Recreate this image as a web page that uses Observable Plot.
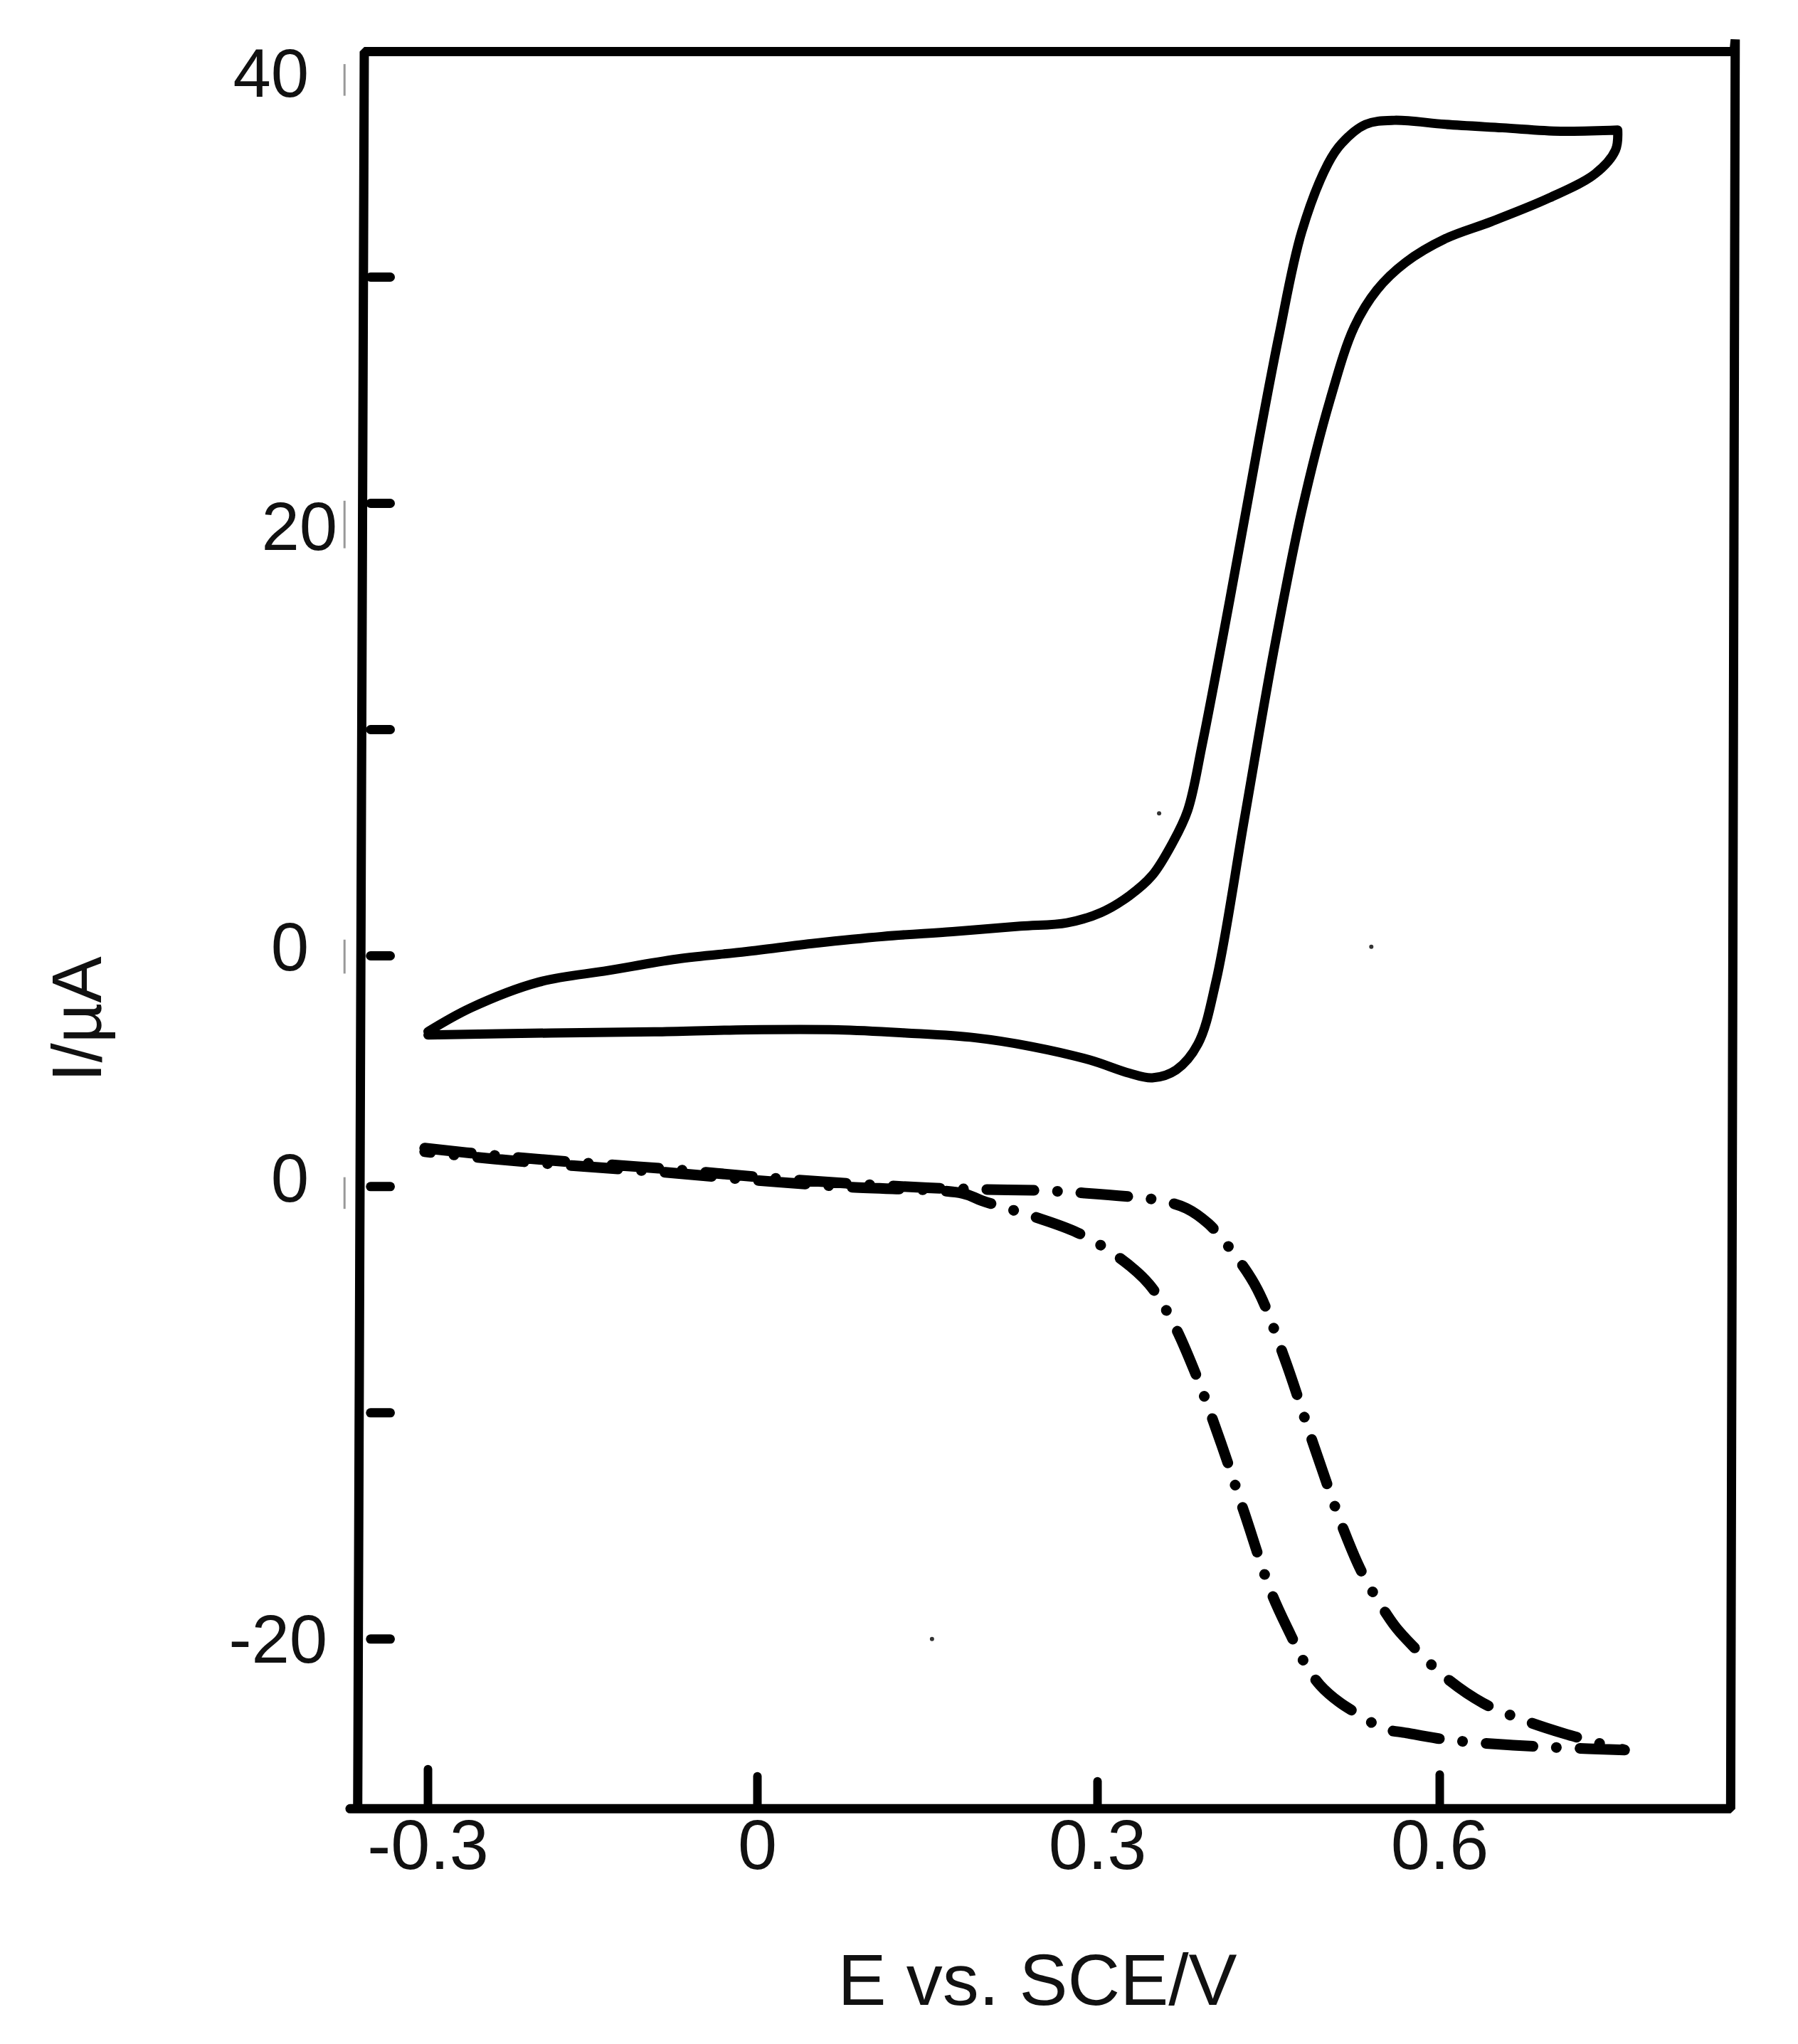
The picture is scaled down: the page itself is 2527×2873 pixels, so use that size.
<!DOCTYPE html>
<html>
<head>
<meta charset="utf-8">
<style>html,body{margin:0;padding:0;background:#fff}svg{display:block}</style>
<script src="https://cdn.jsdelivr.net/npm/d3@7"></script>
<script src="https://cdn.jsdelivr.net/npm/@observablehq/plot@0.6"></script>
</head>
<body>
<script>
// Solid curve: cyclic voltammogram, E in V, I in µA
const cvE = [-0.300,-0.300,-0.261,-0.199,-0.136,-0.073,-0.010,0.051,0.111,0.172,0.232,0.273,0.303,0.328,0.348,0.365,0.379,0.392,0.416,0.441,0.459,0.479,0.502,0.514,0.535,0.560,0.605,0.655,0.706,0.756,0.756,0.754,0.736,0.696,0.645,0.605,0.570,0.545,0.525,0.504,0.479,0.454,0.429,0.404,0.388,0.369,0.348,0.328,0.293,0.242,0.192,0.131,0.071,-0.010,-0.094,-0.188,-0.300,-0.300];
const cvI = [-3.35,-3.35,-2.30,-1.16,-0.65,-0.14,0.19,0.56,0.86,1.07,1.31,1.46,1.91,2.66,3.56,4.92,6.42,9.4,15.75,22.67,27.4,32.0,35.01,35.91,36.75,36.93,36.75,36.6,36.45,36.5,36.5,35.61,34.56,33.5,32.45,31.7,30.65,29.44,27.79,24.6,19.66,13.34,6.12,-1.1,-3.9,-5.04,-5.39,-5.19,-4.6,-4.01,-3.62,-3.41,-3.27,-3.27,-3.36,-3.41,-3.50,-3.50];
// Dash-dotted curve: lower panel, I in µA on its own zero
const lowE = [-0.303,-0.240,-0.167,-0.084,0,0.081,0.150,0.196,0.253,0.287,0.335,0.356,0.378,0.397,0.416,0.440,0.464,0.490,0.516,0.533,0.560,0.574,0.605,0.638,0.674,0.710,0.762,0.762,0.707,0.664,0.626,0.598,0.571,0.550,0.531,0.512,0.495,0.483,0.469,0.452,0.429,0.408,0.385,0.366,0.345,0.316,0.282,0.244,0.198,0.181,0.081,0,-0.084,-0.167,-0.240,-0.303];
const lowI = [1.70,1.38,1.08,0.79,0.43,0.14,-0.05,-0.12,-0.18,-0.28,-0.48,-0.62,-0.96,-1.63,-2.73,-4.53,-7.6,-11.5,-15.2,-17.17,-19.38,-20.18,-21.69,-22.83,-23.59,-24.19,-24.9,-24.9,-24.8,-24.69,-24.55,-24.39,-24.15,-23.95,-23.39,-22.79,-22.03,-21.18,-19.78,-17.9,-14.46,-11.3,-8.15,-6.0,-4.3,-3.03,-2.03,-1.33,-0.62,-0.30,-0.02,0.27,0.63,0.92,1.22,1.54];
const lowerZero = 10.2; // the lower panel's 0 sits this many µA below the upper panel's 0

const xTicks = [-0.3, 0, 0.3, 0.6];
const xTickLabels = ["-0.3", "0", "0.3", "0.6"];
const xTickTop = [-35.97, -36.28, -36.5, -36.2];
const upperTicks = [30, 20, 10, 0];
const lowerTicks = [0, -10, -20];
const yLabels = ["40", "20", "0", "0", "-20"];
const yLabelValues = [40, 20, 0, -lowerZero, -20 - lowerZero];

const frameE = [-0.371, 0.855, 0.859, 0.858, -0.358, -0.364];
const frameI = [-37.7, -37.7, 40.5, 39.97, 39.97, -37.7];
const speckE = [0.354, 0.54, 0.154];
const speckI = [6.3, 0.4, -30.2];
const scratchTop = [39.4, 20.1, 0.7, -9.8];
const scratchBottom = [38.0, 18.0, -0.8, -11.2];

const table = (xs, ys) => xs.map((x, i) => ({x, y: ys[i]}));
const font = "'Liberation Sans', Arial, sans-serif";
const labelDx = [-50, -10, -50, -50, -24];
const labelDy = [34, 35, -10, -10, 2];
const yTickRows = [...upperTicks, ...lowerTicks.map(v => v - lowerZero)];

const chart = Plot.plot({
  width: 2527,
  height: 2873,
  marginLeft: 0,
  marginRight: 0,
  marginTop: 0,
  marginBottom: 331,
  style: {background: "#fff", fontFamily: font, color: "#111"},
  x: {type: "linear", domain: xTicks, range: [601, 1064, 1542, 2023]},
  y: {type: "linear", domain: [-40, 40], range: [2615, 71], axis: null},
  marks: [
    Plot.axisX({
      ticks: xTicks,
      tickFormat: v => xTickLabels[xTicks.indexOf(v)],
      tickSize: 0,
      tickPadding: 14,
      fontSize: 99,
      label: null,
      stroke: "none",
      fill: "#111"
    }),
    ...yLabels.map((label, i) => Plot.text([label], {
      x: () => -0.376,
      y: () => yLabelValues[i],
      text: d => d,
      textAnchor: "end",
      fontSize: 96,
      fill: "#111",
      dx: labelDx[i],
      dy: labelDy[i]
    })),
    Plot.text(["E vs. SCE/V"], {
      x: () => 0.247,
      y: () => -37.7,
      text: d => d,
      fontSize: 102,
      dy: 243,
      fill: "#111"
    }),
    Plot.text(["I/\u00b5A"], {
      x: () => -0.3,
      y: () => -2.8,
      text: d => d,
      fontSize: 98,
      rotate: -90,
      dx: -491,
      fill: "#111"
    }),
    Plot.line(table(frameE, frameI), {x: "x", y: "y", stroke: "#000", strokeWidth: 13, strokeLinejoin: "miter"}),
    Plot.ruleY(yTickRows, {x1: () => -0.352, x2: () => -0.334, y: d => d, stroke: "#000", strokeWidth: 13, strokeLinecap: "round"}),
    Plot.ruleX(xTicks, {x: d => d, y1: () => -37.7, y2: (d, i) => xTickTop[i], stroke: "#000", strokeWidth: 12, strokeLinecap: "round"}),
    Plot.ruleX(scratchTop, {x: () => -0.376, y1: d => d, y2: (d, i) => scratchBottom[i], stroke: "#999", strokeWidth: 3}),
    Plot.dot(table(speckE, speckI), {x: "x", y: "y", r: 3, fill: "#333", stroke: "none"}),
    Plot.line(table(cvE, cvI), {x: "x", y: "y", curve: "catmull-rom", stroke: "#000", strokeWidth: 13, strokeLinejoin: "round", strokeLinecap: "round"}),
    Plot.line(table(lowE, lowI), {
      x: "x",
      y: d => d.y - lowerZero,
      curve: "catmull-rom",
      stroke: "#000",
      strokeWidth: 15,
      strokeLinecap: "round",
      strokeLinejoin: "round",
      strokeDasharray: "66 33 0.1 33"
    })
  ]
});
document.body.appendChild(chart);
</script>
</body>
</html>
